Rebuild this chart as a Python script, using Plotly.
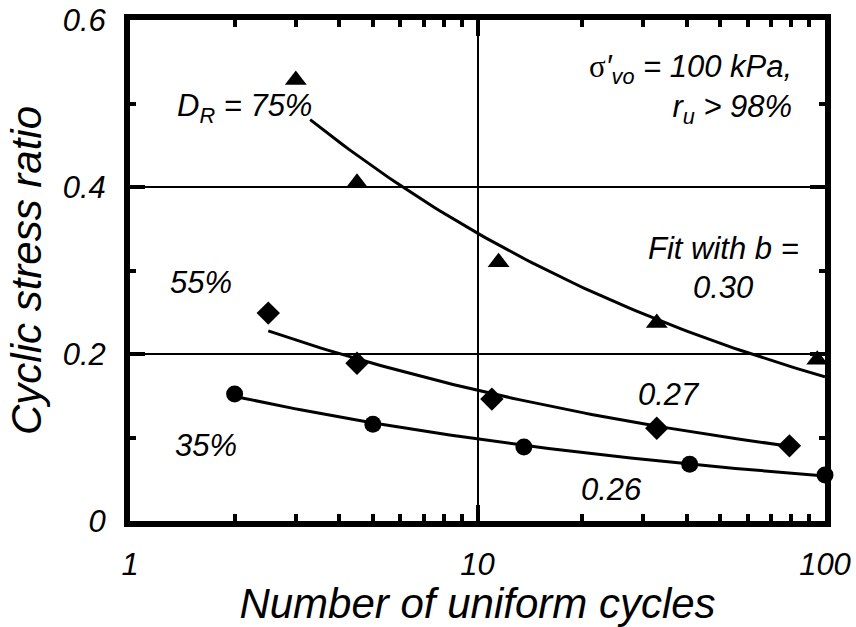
import numpy as np
import plotly.graph_objects as go

# Cyclic stress ratio vs. number of uniform cycles to liquefaction
dr75_cycles = [3.0, 4.5, 11.5, 32.8, 95.0]
dr75_csr = [0.528, 0.405, 0.310, 0.237, 0.193]
dr55_cycles = [2.5, 4.5, 11.0, 32.8, 79.0]
dr55_csr = [0.249, 0.189, 0.146, 0.111, 0.090]
dr35_cycles = [2.0, 5.0, 13.6, 40.8, 100.0]
dr35_csr = [0.152, 0.116, 0.0886, 0.068, 0.055]

# Power-law fits CSR = a * N^-b : exponent b and the range of N each curve covers
fit_b = [0.30, 0.27, 0.26]
fit_start = [3.3, 2.5, 2.0]
fit_end = [100.0, 79.0, 100.0]

x_tick_vals = [1, 10, 100]
x_tick_text = ["1", "10", "100"]
y_tick_vals = [0, 0.2, 0.4, 0.6]
y_tick_text = ["0", "0.2", "0.4", "0.6"]

FONT = "Liberation Sans, Arial, sans-serif"

series = [
    (dr75_cycles, dr75_csr, "triangle-up", 19),
    (dr55_cycles, dr55_csr, "diamond", 18),
    (dr35_cycles, dr35_csr, "circle", 17),
]

fig = go.Figure()

# fitted curves (coefficient a from least squares in log space with b fixed)
for (n, csr, _, _), b, n0, n1 in zip(series, fit_b, fit_start, fit_end):
    n = np.asarray(n)
    csr = np.asarray(csr)
    a = np.exp(np.mean(np.log(csr) + b * np.log(n)))
    nn = np.geomspace(n0, n1, 80)
    fig.add_trace(go.Scatter(x=nn, y=a * nn ** (-b), mode="lines",
                             line=dict(color="black", width=3),
                             hoverinfo="skip", showlegend=False, cliponaxis=False))

# measured points
for n, csr, sym, size in series:
    fig.add_trace(go.Scatter(x=n, y=csr, mode="markers",
                             marker=dict(symbol=sym, size=size, color="black"),
                             showlegend=False, cliponaxis=False))

tickfont = dict(family=FONT, size=31, color="black", style="italic")
titlefont = dict(family=FONT, size=42, color="black", style="italic")

fig.update_xaxes(
    type="log", range=[0, 2], automargin=False,
    tickvals=x_tick_vals, ticktext=x_tick_text, tickfont=tickfont,
    ticks="inside", ticklen=16, tickwidth=4, tickcolor="black",
    ticklabelstandoff=11,
    minor=dict(tickvals=[2, 3, 4, 5, 6, 7, 8, 9, 20, 30, 40, 50, 60, 70, 80, 90],
               ticks="inside", ticklen=7, tickwidth=4, tickcolor="black", showgrid=False),
    showline=True, linecolor="black", linewidth=6, mirror="ticks",
    showgrid=True, gridcolor="black", gridwidth=2,
    zeroline=False,
    title=dict(text="Number of uniform cycles", font=titlefont, standoff=20),
)
fig.update_yaxes(
    range=[0, 0.6], automargin=False,
    tickvals=y_tick_vals, ticktext=y_tick_text, tickfont=tickfont,
    ticks="inside", ticklen=15, tickwidth=4, tickcolor="black",
    ticklabelstandoff=12,
    minor=dict(dtick=0.1, ticks="inside", ticklen=6, tickwidth=4, tickcolor="black", showgrid=False),
    showline=True, linecolor="black", linewidth=6, mirror="ticks",
    showgrid=True, gridcolor="black", gridwidth=2,
    zeroline=False,
    title=dict(text="Cyclic stress ratio", font=titlefont, standoff=10),
)

ann_font = dict(family=FONT, size=31, color="black", style="italic")
labels = [
    ("D<sub>R</sub> = 75%", 0.3285, 0.495),
    ("55%", 0.2046, 0.286),
    ("35%", 0.219, 0.091),
    ("Fit with b =", 1.709, 0.326),
    ("0.30", 1.706, 0.280),
    ("0.27", 1.550, 0.151),
    ("0.26", 1.386, 0.038),
]
for text, lx, ly in labels:
    fig.add_annotation(x=lx, y=ly, text=text, showarrow=False, font=ann_font,
                       xanchor="center", yanchor="middle")

fig.add_annotation(
    x=1.911, y=0.517, xanchor="right", yanchor="middle", align="right",
    showarrow=False, font=dict(family=FONT, size=31, color="black"),
    text=("<span style='font-family:Liberation Serif'>σ</span><i>′<sub>vo</sub> = 100 kPa,</i>"
          "<br><i>r<sub>u</sub> &gt; 98%</i>"),
)

fig.update_layout(
    width=856, height=627,
    margin=dict(l=130, r=31, t=20, b=106),
    paper_bgcolor="white", plot_bgcolor="white",
    showlegend=False,
)

fig.write_html("out.html")
